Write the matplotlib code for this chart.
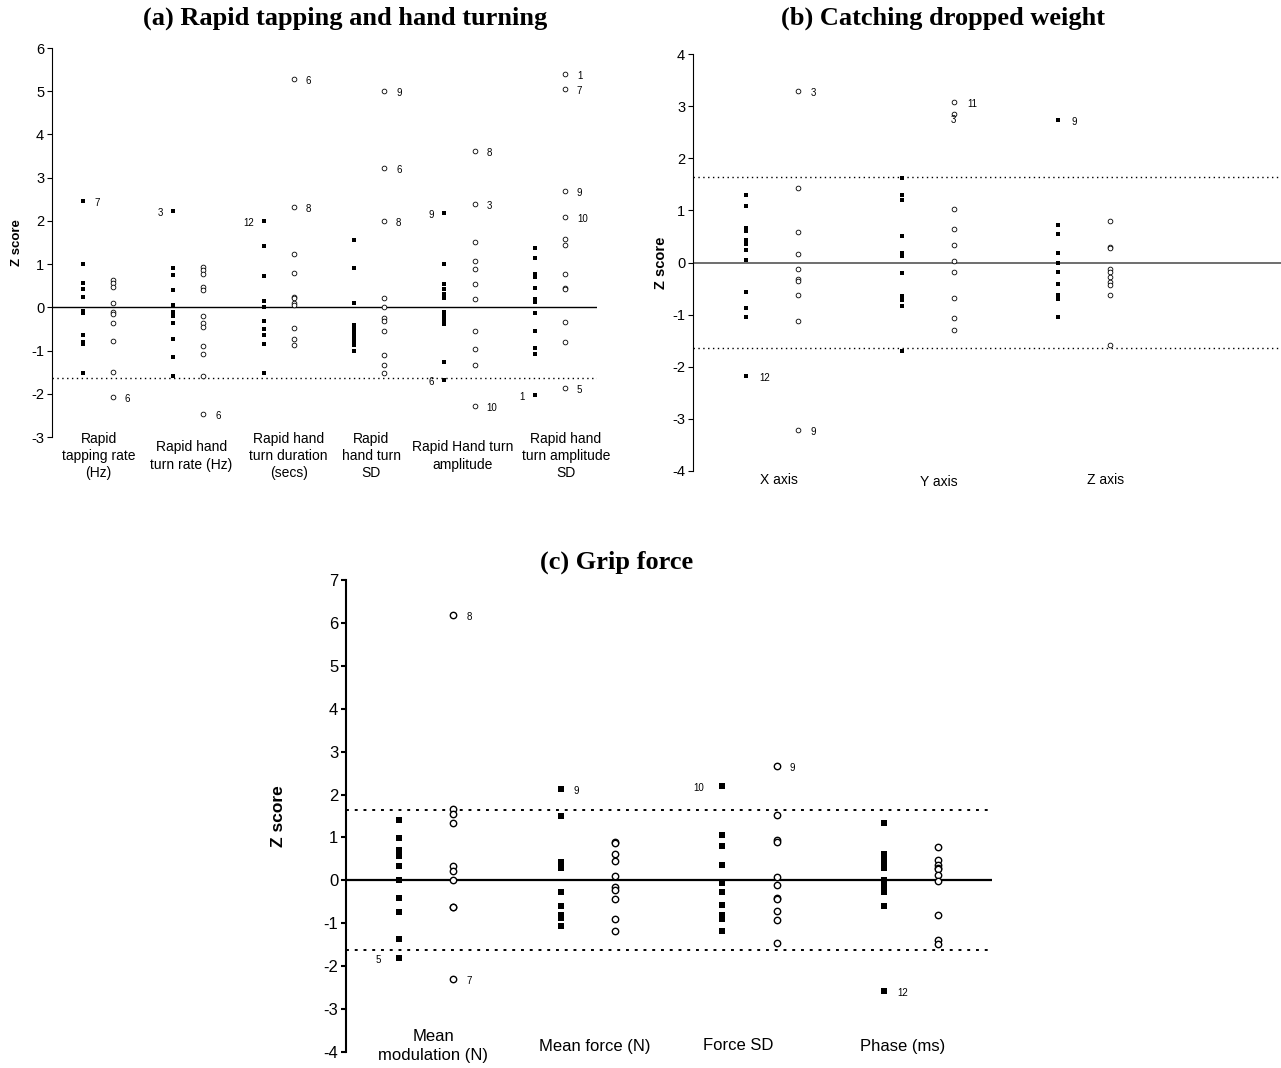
import matplotlib
matplotlib.use('Agg')
import matplotlib.pyplot as plt

plt.rcParams['font.family'] = ['Liberation Sans', 'DejaVu Sans']
plt.rcParams['axes.unicode_minus'] = False

# ---- data (z scores) ----
a_cats = ['Rapid\ntapping rate\n(Hz)', 'Rapid hand\nturn rate (Hz)', 'Rapid hand\nturn duration\n(secs)',
          'Rapid\nhand turn\nSD', 'Rapid Hand turn\namplitude', 'Rapid hand\nturn amplitude\nSD']
a_filled = [
    [2.46, 1.01, 0.57, 0.42, 0.25, -0.08, -0.14, -0.63, -0.80, -0.85, -1.53],
    [2.22, 0.92, 0.75, 0.39, 0.05, -0.11, -0.19, -0.37, -0.73, -1.16, -1.58],
    [2.00, 1.43, 0.73, 0.15, 0.00, -0.32, -0.50, -0.63, -0.85, -1.51],
    [1.56, 0.90, 0.11, -0.42, -0.51, -0.60, -0.69, -0.79, -0.88, -1.00],
    [2.18, 1.01, 0.54, 0.42, 0.32, 0.22, -0.11, -0.20, -0.29, -0.39, -1.27, -1.67],
    [1.38, 1.14, 0.76, 0.71, 0.44, 0.19, 0.13, -0.13, -0.55, -0.93, -1.09, -2.02],
]
a_open = [
    [0.63, 0.56, 0.48, 0.11, -0.11, -0.15, -0.37, -0.79, -1.50, -2.08],
    [0.94, 0.86, 0.76, 0.48, 0.40, -0.19, -0.37, -0.46, -0.89, -1.07, -1.58, -2.46],
    [5.29, 2.31, 1.23, 0.80, 0.25, 0.22, 0.11, 0.05, -0.47, -0.73, -0.86],
    [5.00, 3.23, 2.00, 0.22, 0.00, -0.25, -0.32, -0.55, -1.11, -1.33, -1.53],
    [3.61, 2.40, 1.52, 1.08, 0.89, 0.53, 0.19, -0.55, -0.97, -1.33, -2.28],
    [5.40, 5.05, 2.68, 2.08, 1.58, 1.44, 0.76, 0.44, 0.42, -0.35, -0.81, -1.86],
]
# (category, series, value, patient, side)
a_notes = [
    (0, 'f', 2.46, '7', 'r'), (0, 'o', -2.08, '6', 'r'),
    (1, 'f', 2.22, '3', 'l'), (1, 'o', -2.46, '6', 'r'),
    (2, 'f', 2.00, '12', 'l'), (2, 'o', 5.29, '6', 'r'), (2, 'o', 2.31, '8', 'r'),
    (3, 'o', 5.00, '9', 'r'), (3, 'o', 3.23, '6', 'r'), (3, 'o', 2.00, '8', 'r'),
    (4, 'f', 2.18, '9', 'l'), (4, 'f', -1.67, '6', 'l'), (4, 'o', 3.61, '8', 'r'),
    (4, 'o', 2.40, '3', 'r'), (4, 'o', -2.28, '10', 'r'),
    (5, 'f', -2.02, '1', 'l'), (5, 'o', 5.40, '1', 'r'), (5, 'o', 5.05, '7', 'r'),
    (5, 'o', 2.68, '9', 'r'), (5, 'o', 2.08, '10', 'r'), (5, 'o', -1.86, '5', 'r'),
]

b_cats = ['X axis', 'Y axis', 'Z axis']
b_filled = [
    [1.30, 1.08, 0.67, 0.60, 0.44, 0.36, 0.24, 0.04, -0.56, -0.88, -1.04, -2.17],
    [1.62, 1.30, 1.19, 0.51, 0.18, 0.13, -0.20, -0.65, -0.72, -0.84, -1.69],
    [2.74, 0.71, 0.54, 0.18, -0.01, -0.19, -0.41, -0.63, -0.70, -1.04],
]
b_open = [
    [3.29, 1.43, 0.59, 0.16, -0.13, -0.31, -0.35, -0.63, -1.13, -3.22],
    [3.07, 2.85, 1.02, 0.65, 0.33, 0.03, -0.18, -0.68, -1.07, -1.29],
    [0.80, 0.29, 0.27, -0.13, -0.19, -0.28, -0.37, -0.43, -0.63, -1.58],
]
b_notes = [
    (0, 'f', -2.17, '12', 'r'), (0, 'o', 3.29, '3', 'r'), (0, 'o', -3.22, '9', 'r'),
    (1, 'o', 3.07, '11', 'r'), (1, 'o', 2.85, '3', 'b'), (2, 'f', 2.74, '9', 'r'),
]

c_cats = ['Mean\nmodulation (N)', 'Mean force (N)', 'Force SD', 'Phase (ms)']
c_filled = [
    [1.40, 0.99, 0.70, 0.64, 0.56, 0.33, 0.00, -0.40, -0.74, -1.37, -1.81],
    [2.12, 1.49, 0.43, 0.35, 0.29, -0.26, -0.59, -0.80, -0.88, -1.06],
    [2.19, 1.05, 0.80, 0.36, -0.06, -0.28, -0.58, -0.80, -0.89, -1.18],
    [1.34, 0.62, 0.51, 0.40, 0.29, 0.02, -0.14, -0.27, -0.59, -2.57],
]
c_open = [
    [6.18, 1.66, 1.54, 1.34, 0.34, 0.21, 0.00, -0.61, -0.63, -2.29],
    [0.89, 0.86, 0.61, 0.45, 0.11, -0.16, -0.23, -0.43, -0.89, -1.17],
    [2.66, 1.52, 0.93, 0.89, 0.08, -0.11, -0.40, -0.44, -0.72, -0.93, -1.46],
    [0.78, 0.48, 0.35, 0.29, 0.26, 0.12, -0.02, -0.80, -1.40, -1.48],
]
c_notes = [
    (0, 'f', -1.81, '5', 'l'), (0, 'o', 6.18, '8', 'r'), (0, 'o', -2.29, '7', 'r'),
    (1, 'f', 2.12, '9', 'r'), (2, 'f', 2.19, '10', 'l'), (2, 'o', 2.66, '9', 'r'),
    (3, 'f', -2.57, '12', 'r'),
]

W, H = 1281, 1068
fig = plt.figure(figsize=(W / 100, H / 100), dpi=100)


def axes_px(left, right, top, bottom):
    return fig.add_axes([left / W, 1 - bottom / H, (right - left) / W, (bottom - top) / H])


def draw_panel(ax, cats, filled, opened, notes, xlim, ylim, half, sty):
    for i in range(len(cats)):
        xs = i + 1
        ax.plot([xs - half] * len(filled[i]), filled[i], 's', color='black',
                ms=sty['sq'], mew=0, clip_on=False)
        ax.plot([xs + half] * len(opened[i]), opened[i], 'o', mfc='white', mec='black',
                ms=sty['ci'], mew=sty['ciw'], clip_on=False)
    ax.axhline(0, color=sty['zc'], lw=sty['zw'], zorder=0)
    for lv in sty['dots']:
        ax.axhline(lv, color='black', lw=sty['dw'], ls=sty['dls'], zorder=0)
    for cat, ser, val, txt, side in notes:
        x = cat + 1 + (half if ser == 'o' else -half)
        if side == 'r':
            off, ha = (sty['dxr'], -2), 'left'
        elif side == 'l':
            off, ha = (sty['dxl'], -2), 'right'
        else:
            off, ha = (-1, -6), 'center'
        ax.annotate(txt, (x, val), xytext=off, textcoords='offset pixels',
                    ha=ha, va='center', fontsize=7)
    ax.set_xlim(*xlim)
    ax.set_ylim(*ylim)
    ax.set_yticks(range(ylim[0], ylim[1] + 1))
    ax.set_xticks([])
    for s in ['top', 'right', 'bottom']:
        ax.spines[s].set_visible(False)
    ax.spines['left'].set_linewidth(sty['sw'])
    ax.tick_params(axis='y', direction='out', length=3.6, width=sty['sw'],
                   labelsize=sty['tl'], pad=2)
    ax.set_ylabel('Z score', fontweight='bold', fontsize=sty['yl'], labelpad=sty['lp'])
    for i, lab in enumerate(cats):
        ax.annotate(lab, (i + 1, 0), xycoords=ax.get_xaxis_transform(),
                    xytext=(sty['cx'][i], sty['cy'][i]), textcoords='offset pixels',
                    ha='center', va='center', fontsize=sty['cl'], linespacing=1.3,
                    annotation_clip=False)


# (a) rapid tapping and hand turning
ax_a = axes_px(52, 597, 48, 437)
draw_panel(ax_a, a_cats, a_filled, a_open, a_notes, (0.495, 6.52), (-3, 6), 0.166,
           dict(sq=3.3, ci=3.4, ciw=0.6, zc='black', zw=1.0, dots=[-1.645], dw=1.0,
                dls=(0, (1, 2.5)), dxr=12, dxl=-10, sw=0.8, tl=10.5, yl=9.5, lp=6,
                cl=10, cx=[1, 3, 10, 2, 3, 16], cy=[-19] * 6))

# (b) catching dropped weight
ax_b = axes_px(693, 1281, 54, 471)
draw_panel(ax_b, b_cats, b_filled, b_open, b_notes, (0.494, 4.26), (-4, 4), 0.166,
           dict(sq=3.3, ci=3.4, ciw=0.6, zc='#555555', zw=1.2, dots=[1.645, -1.645], dw=1.0,
                dls=(0, (1, 2.5)), dxr=13, dxl=-10, sw=0.8, tl=10.5, yl=10.5, lp=3,
                cl=10, cx=[7, 11, 21], cy=[-9, -11, -9]))

# (c) grip force
ax_c = axes_px(346, 992, 580, 1052)
draw_panel(ax_c, c_cats, c_filled, c_open, c_notes, (0.504, 4.5), (-4, 7), 0.168,
           dict(sq=4.2, ci=4.6, ciw=1.0, zc='black', zw=1.6, dots=[1.65, -1.63], dw=1.4,
                dls=(0, (1.5, 3)), dxr=13, dxl=-18, sw=1.5, tl=12, yl=12.5, lp=27,
                cl=12, cx=[7, 7, -11, -9], cy=[6, 6, 6, 6]))

tfont = dict(family=['Liberation Serif', 'DejaVu Serif'], fontweight='bold', fontsize=19,
             ha='center', va='center')
fig.text(345 / W, 1 - 18 / H, '(a) Rapid tapping and hand turning', **tfont)
fig.text(943 / W, 1 - 18 / H, '(b) Catching dropped weight', **tfont)
fig.text(617 / W, 1 - 562 / H, '(c) Grip force', **tfont)

fig.savefig('out.png', dpi=100)
